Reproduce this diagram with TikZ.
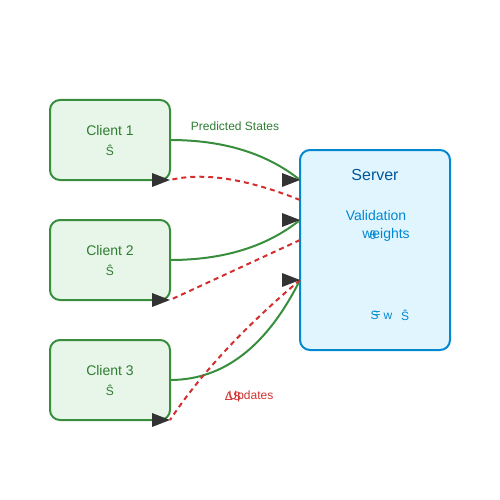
\documentclass[tikz,border=0pt]{standalone}
\usepackage{fontspec}
\setmainfont{Liberation Sans}
\usepackage{tikz}
\usetikzlibrary{positioning}
\definecolor{cline}{HTML}{388E3C}
\definecolor{cfill}{HTML}{E8F5E9}
\definecolor{ctext}{HTML}{2E7D32}
\definecolor{sline}{HTML}{0288D1}
\definecolor{sfill}{HTML}{E1F5FE}
\definecolor{stitle}{HTML}{01579B}
\definecolor{rline}{HTML}{D32F2F}
\definecolor{tipgray}{HTML}{333333}

\begin{document}
\begin{tikzpicture}[x=1pt, y=-1pt, inner sep=0pt, outer sep=0pt]
    \tikzset{%
      client/.style={draw=cline, fill=cfill, line width=2pt, rounded corners=10pt,
        minimum width=120pt, minimum height=80pt},
      server/.style={draw=sline, fill=sfill, line width=2pt, rounded corners=10pt,
        minimum width=150pt, minimum height=200pt},
      fs/.style={font=\fontsize{#1pt}{#1pt}\selectfont},
      pred/.style={draw=cline, line width=2pt},
      upd/.style={draw=rline, line width=2pt, dash pattern=on 5pt off 4pt},
      tipmark/.style={fill=tipgray}
      }
     \useasboundingbox (0,0) rectangle (500,500);

     \node [client] (C1) at (110,140) {};
     \node [client] (C2) at (110,260) {};
     \node [client] (C3) at (110,380) {};
     \node [server] (Srv) at (375,250) {};

     \node [fs=14, text=ctext] (C1lbl) at (110,130) {Client 1};
     \node [fs=12, text=ctext] (C1hat) at (110,150) {Ŝ};
     \node [fs=14, text=ctext] (C2lbl) at (110,250) {Client 2};
     \node [fs=12, text=ctext] (C2hat) at (110,270) {Ŝ};
     \node [fs=14, text=ctext] (C3lbl) at (110,370) {Client 3};
     \node [fs=12, text=ctext] (C3hat) at (110,390) {Ŝ};

     \node [fs=16, text=stitle] (Stitle) at (375,175) {Server};
     \node [fs=14, text=sline] (Sval) at (376,215) {Validation};
     \node [fs=14, text=sline] (Sw) at (386,235) {weights};
     \node [fs=12, text=sline] (Stheta) at (373,235) {θ};
     \node [fs=12, text=sline] (Ss) at (374.5,315) {S};
     \node [fs=12, text=sline] (Seq) at (377,315) {=};
     \node [fs=12, text=sline] (Sww) at (388,316) {w};
     \node [fs=12, text=sline] (Shat) at (405,315) {Ŝ};

     \coordinate (In1) at (300,180);
     \coordinate (Out1) at (300,200);
     \coordinate (In2) at (300,220);
     \coordinate (Out2) at (300,240);
     \coordinate (In3) at (300,280);

     % predicted states
     \draw [pred] (C1.east) .. controls (223.3,140) and (266.7,153.3) .. (In1);
     \draw [pred] (C2.east) .. controls (223.3,260) and (266.7,246.7) .. (In2);
     \draw [pred] (C3.east) .. controls (223.3,380) and (266.7,346.7) .. (In3);
     % updates
     \draw [upd] (Out1) .. controls (246.7,178.7) and (203.3,172) .. (C1.south east);
     \draw [upd] (Out2) -- (C2.south east);
     \draw [upd] (In3) .. controls (243.3,328) and (200,374.7) .. (C3.south east);

     \foreach \p in {In1, In2, In3, C1.south east, C2.south east, C3.south east}
       \fill [tipmark] (\p) -- ++(-18,-7) -- ++(0,14) -- cycle;

     \node [fs=12, text=ctext] (Lpred) at (235,126) {Predicted States};
     \node [fs=12, text=rline] (Lupd) at (251,396) {Updates};
     \node [fs=12, text=rline] (Ldelta) at (233,396) {ΔS};
\end{tikzpicture}
\end{document}
